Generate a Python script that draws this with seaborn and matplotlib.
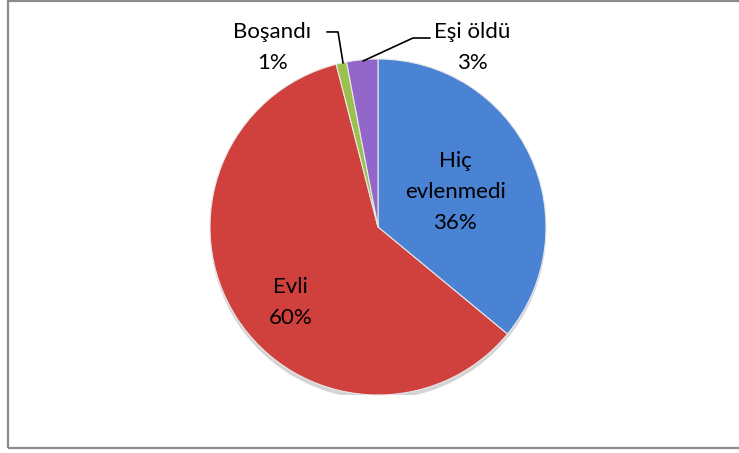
import matplotlib
matplotlib.use("Agg")
import matplotlib.pyplot as plt
import seaborn as sns
from matplotlib.patches import Rectangle, Circle

sns.set_theme(style="white")
plt.rcParams['font.family'] = ['Lato', 'DejaVu Sans']

# Veri (saat yönünde, tepeden başlayarak)
kategoriler = ['Hiç\nevlenmedi', 'Evli', 'Boşandı', 'Eşi öldü']
yuzdeler = [36, 60, 1, 3]
renkler = ['#4A82D4', '#D0413D', '#9BC04E', '#9367C9']

fig = plt.figure(figsize=(7.39, 4.53), dpi=100)
fig.patch.set_facecolor('white')

# Çerçeve
fig.patches.append(Rectangle((8 / 739, 5 / 453), 740 / 739, 447 / 453,
                             transform=fig.transFigure, fill=False,
                             edgecolor='#8c8c8c', linewidth=1.6))

ax = fig.add_axes([210 / 739, 58 / 453, 336 / 739, 336 / 453])
# hafif gölge
ax.add_patch(Circle((0, -0.025), 1.0, color='#555555', alpha=0.25, zorder=0, lw=0))
wedges, _ = ax.pie(yuzdeler, colors=renkler, startangle=90, counterclock=False,
                   radius=1.0,
                   wedgeprops=dict(edgecolor='#e8e8e8', linewidth=0.8, zorder=1))
ax.set_xlim(-1, 1)
ax.set_ylim(-1, 1)
ax.set_aspect('equal')
ax.axis('off')

fs = 16
ls = 1.7
ax.text(0.46, 0.21, f"{kategoriler[0]}\n{yuzdeler[0]}%", ha='center', va='center',
        fontsize=fs, linespacing=ls, color='black')
ax.text(-0.52, -0.45, f"{kategoriler[1]}\n{yuzdeler[1]}%", ha='center', va='center',
        fontsize=fs, linespacing=ls, color='black')
ax.text(-0.63, 1.07, f"{kategoriler[2]}\n{yuzdeler[2]}%", ha='center', va='center',
        fontsize=fs, linespacing=ls, color='black', clip_on=False)
ax.text(0.56, 1.07, f"{kategoriler[3]}\n{yuzdeler[3]}%", ha='center', va='center',
        fontsize=fs, linespacing=ls, color='black', clip_on=False)

# Yönlendirme çizgileri
ax.plot([-0.304, -0.238, -0.208], [1.161, 1.161, 0.976], color='black', lw=1.2, clip_on=False)
ax.plot([0.31, 0.208, -0.089], [1.125, 1.125, 0.988], color='black', lw=1.2, clip_on=False)

fig.savefig('out.png', dpi=100, facecolor='white')
